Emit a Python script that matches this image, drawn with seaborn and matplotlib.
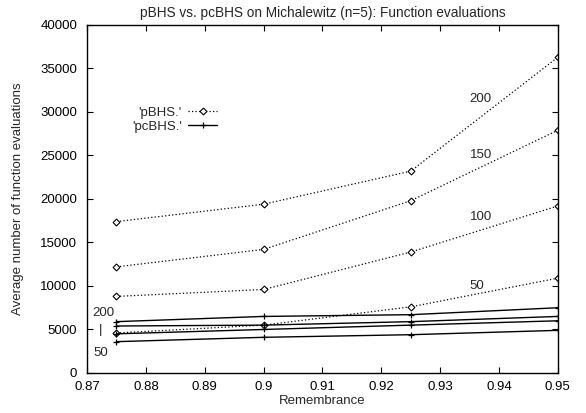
import matplotlib
matplotlib.use("Agg")
import matplotlib.pyplot as plt
import seaborn as sns
import pandas as pd
from matplotlib.lines import Line2D

remembrance = [0.875, 0.9, 0.925, 0.95]
pbhs_50 = [4600, 5500, 7600, 10900]
pbhs_100 = [8800, 9600, 13900, 19200]
pbhs_150 = [12200, 14200, 19800, 27900]
pbhs_200 = [17400, 19400, 23200, 36300]
pcbhs_50 = [3600, 4100, 4400, 4900]
pcbhs_100 = [4500, 5000, 5500, 6000]
pcbhs_150 = [5400, 5500, 5900, 6500]
pcbhs_200 = [5900, 6500, 6700, 7500]

x_ticks = [0.87, 0.88, 0.89, 0.9, 0.91, 0.92, 0.93, 0.94, 0.95]
x_tick_labels = ["0.87", "0.88", "0.89", "0.9", "0.91", "0.92", "0.93", "0.94", "0.95"]
y_ticks = [0, 5000, 10000, 15000, 20000, 25000, 30000, 35000, 40000]

sns.set_style("ticks")
plt.rcParams['font.family'] = ['Liberation Sans', 'DejaVu Sans']

FS = 9.5
fig = plt.figure(figsize=(5.86, 4.13), dpi=100)
ax = fig.add_axes([0.1485, 0.0969, 0.8035, 0.8426])

dotted = (0, (1, 1.8))
for ys in [pbhs_50, pbhs_100, pbhs_150, pbhs_200]:
    df = pd.DataFrame({"x": remembrance, "y": ys})
    sns.lineplot(data=df, x="x", y="y", ax=ax, color="black", linewidth=0.9,
                 linestyle=dotted, marker="D", markersize=3.5,
                 markerfacecolor="white", markeredgecolor="black",
                 markeredgewidth=0.8)
for ys in [pcbhs_50, pcbhs_100, pcbhs_150, pcbhs_200]:
    df = pd.DataFrame({"x": remembrance, "y": ys})
    sns.lineplot(data=df, x="x", y="y", ax=ax, color="black", linewidth=1.0,
                 linestyle="-", marker="+", markersize=5,
                 markeredgecolor="black", markeredgewidth=0.9)

ax.set_xlim(0.87, 0.95)
ax.set_ylim(0, 40000)
ax.set_xticks(x_ticks)
ax.set_xticklabels(x_tick_labels)
ax.set_yticks(y_ticks)
ax.tick_params(direction="in", top=True, right=True, length=4, width=0.8,
               labelsize=FS, colors="black", pad=7)
ax.tick_params(axis="x", pad=6)
for s in ax.spines.values():
    s.set_linewidth(1.0)
    s.set_color("black")

ax.set_title("pBHS vs. pcBHS on Michalewitz (n=5): Function evaluations",
             fontsize=9.8, pad=6)
ax.set_xlabel("Remembrance", fontsize=FS, labelpad=1)
ax.set_ylabel("Average number of function evaluations", fontsize=FS, labelpad=12)

# annotations
ax.text(0.9369, 31460, "200", fontsize=FS, ha="center", va="center")
ax.text(0.9369, 25060, "150", fontsize=FS, ha="center", va="center")
ax.text(0.9369, 17970, "100", fontsize=FS, ha="center", va="center")
ax.text(0.9362, 10000, "50", fontsize=FS, ha="center", va="center")
ax.text(0.8727, 6930, "200", fontsize=FS, ha="center", va="center")
ax.text(0.8723, 4940, "|", fontsize=FS, ha="center", va="center")
ax.text(0.8723, 2330, "50", fontsize=FS, ha="center", va="center")

handles = [
    Line2D([], [], color="black", linewidth=0.9, linestyle=dotted, marker="D",
           markersize=3.5, markerfacecolor="white", markeredgecolor="black",
           markeredgewidth=0.8),
    Line2D([], [], color="black", linewidth=1.0, linestyle="-", marker="+",
           markersize=5, markeredgecolor="black", markeredgewidth=0.9),
]
ax.legend(handles, ["'pBHS.'", "'pcBHS.'"], loc="upper left",
          bbox_to_anchor=(0.095, 0.765), frameon=False, markerfirst=False,
          fontsize=FS, handlelength=2.2, handletextpad=0.5, labelspacing=0.1,
          borderpad=0, borderaxespad=0)

fig.savefig("out.png", dpi=100)
